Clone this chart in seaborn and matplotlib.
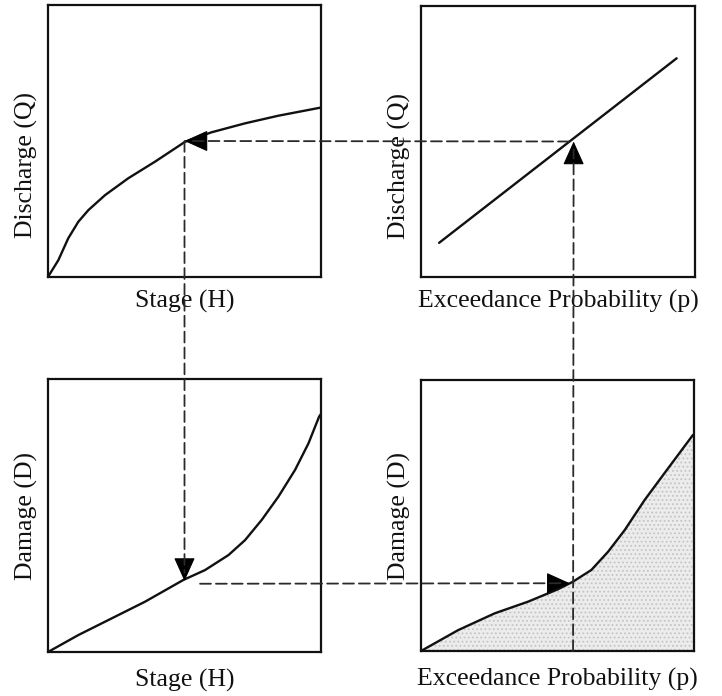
import matplotlib
matplotlib.use("Agg")
import matplotlib.pyplot as plt
from matplotlib.patches import ConnectionPatch
import numpy as np
import pandas as pd
import seaborn as sns

# Rating curve: stage vs discharge
stage_rc = [0.0, 0.004, 0.038, 0.074, 0.111, 0.148, 0.209, 0.294, 0.392, 0.502,
            0.599, 0.722, 0.844, 1.0]
discharge_rc = [0.0, 0.007, 0.062, 0.142, 0.203, 0.246, 0.301, 0.363, 0.424, 0.497,
                0.532, 0.565, 0.593, 0.623]

# Frequency curve: exceedance probability vs discharge
prob_fc = [0.066, 0.933]
discharge_fc = [0.126, 0.807]

# Stage-damage curve
stage_sd = [0.0, 0.111, 0.233, 0.355, 0.496, 0.575, 0.661, 0.722, 0.783, 0.844,
            0.905, 0.954, 0.993, 1.0]
damage_sd = [0.0, 0.062, 0.123, 0.184, 0.264, 0.300, 0.355, 0.410, 0.484, 0.569,
             0.667, 0.764, 0.862, 0.872]

# Damage-probability curve (area beneath = expected annual damage)
prob_dp = [0.0, 0.136, 0.270, 0.392, 0.502, 0.557, 0.624, 0.685, 0.746, 0.819,
           0.905, 0.996]
damage_dp = [0.0, 0.077, 0.139, 0.182, 0.228, 0.256, 0.299, 0.366, 0.446, 0.557,
             0.674, 0.797]

# Values traced through the four curves
stage_h = 0.50
discharge_q = 0.50
discharge_p = 0.54
damage_d = 0.26
exceed_p = 0.557

sns.set_style("white")
plt.rcParams["font.family"] = ["Liberation Serif", "DejaVu Serif"]
plt.rcParams["hatch.color"] = "#b8b8b8"
plt.rcParams["hatch.linewidth"] = 0.8

fig = plt.figure(figsize=(7.22, 6.96), dpi=100)
W, H = 722, 696


def make_axes(x0, y0, x1, y1):
    return fig.add_axes([x0 / W, 1 - y1 / H, (x1 - x0) / W, (y1 - y0) / H])


ax_tl = make_axes(48, 5, 321, 277)
ax_tr = make_axes(421, 6, 695, 277)
ax_bl = make_axes(48, 379, 321, 652)
ax_br = make_axes(421, 380, 694, 651)

FS = 18.5
panels = [(ax_tl, "Stage (H)", "Discharge (Q)", 9.5, 0.41),
          (ax_tr, "Exceedance Probability (p)", "Discharge (Q)", 9.5, 0.41),
          (ax_bl, "Stage (H)", "Damage (D)", 12.5, 0.5),
          (ax_br, "Exceedance Probability (p)", "Damage (D)", 12.5, 0.5)]
for ax, xl, yl, xpad, ypos in panels:
    ax.set_xlim(0, 1)
    ax.set_ylim(0, 1)
    ax.set_xticks([])
    ax.set_yticks([])
    ax.set_xlabel(xl, fontsize=FS, labelpad=xpad, color="#111111")
    ax.set_ylabel(yl, fontsize=FS, color="#111111")
    ax.yaxis.set_label_coords(-0.036, ypos)
    for s in ax.spines.values():
        s.set_color("#111111")
        s.set_linewidth(1.6)
        s.set_visible(True)

line_kw = dict(color="#111111", linewidth=1.7, legend=False)
sns.lineplot(x=stage_rc, y=discharge_rc, ax=ax_tl, sort=False, **line_kw)
sns.lineplot(x=prob_fc, y=discharge_fc, ax=ax_tr, sort=False, **line_kw)
sns.lineplot(x=stage_sd, y=damage_sd, ax=ax_bl, sort=False, **line_kw)
sns.lineplot(x=prob_dp, y=damage_dp, ax=ax_br, sort=False, **line_kw)
ax_br.fill_between(prob_dp, damage_dp, 0, facecolor="#ececec", hatch="....",
                   edgecolor="#c4c4c4", linewidth=0, zorder=0)

dash = (0, (6, 2.8))
dash_kw = dict(color="#2a2a2a", linewidth=1.3, linestyle=dash)


def dashed(axA, xyA, axB, xyB):
    con = ConnectionPatch(xyA=xyA, coordsA=axA.transData, xyB=xyB, coordsB=axB.transData,
                          arrowstyle="-", **dash_kw)
    fig.add_artist(con)


def head(ax, tip, direction):
    off = {"left": (15, 0), "right": (-15, 0), "up": (0, -15), "down": (0, 15)}[direction]
    ax.annotate("", xy=tip, xycoords="data", xytext=off, textcoords="offset points",
                arrowprops=dict(arrowstyle="-|>,head_length=1.0,head_width=0.45",
                                mutation_scale=15, color="#000000", lw=0.8,
                                shrinkA=0, shrinkB=0), annotation_clip=False)


# Q from the frequency curve back to the rating curve
dashed(ax_tr, (discharge_p, discharge_q), ax_tl, (stage_h + 0.03, discharge_q))
head(ax_tl, (stage_h, discharge_q), "left")
# H down to the stage-damage curve
dashed(ax_tl, (stage_h, discharge_q), ax_bl, (stage_h, damage_d + 0.03))
head(ax_bl, (stage_h, damage_d), "down")
# D across to the damage-probability curve
dashed(ax_bl, (stage_h + 0.057, damage_d - 0.01), ax_br, (exceed_p - 0.03, damage_d - 0.01))
head(ax_br, (exceed_p - 0.012, damage_d - 0.01), "right")
# p up to the frequency curve
dashed(ax_br, (exceed_p, 0.0), ax_tr, (exceed_p, discharge_q - 0.03))
head(ax_tr, (exceed_p, discharge_q), "up")

fig.savefig("out.png", dpi=100)
